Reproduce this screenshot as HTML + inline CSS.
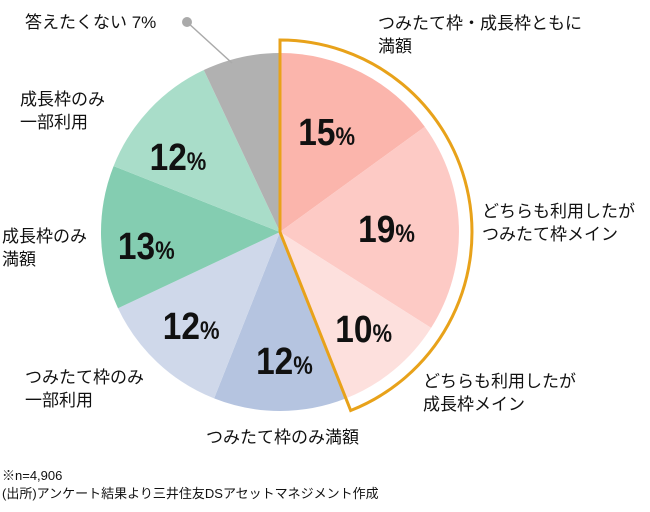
<!DOCTYPE html>
<html><head><meta charset="utf-8"><style>
body{margin:0;background:#fff;width:650px;height:507px;overflow:hidden}
text{font-family:"Liberation Sans","Noto Sans CJK JP",sans-serif}
.l{font-size:17px;fill:#111}
.p{font-size:38px;font-weight:bold;fill:#111}
.ps{font-size:25px}
</style></head><body>
<svg width="650" height="507" viewBox="0 0 650 507">
<path d="M280,232 L280,40 A192 192 0 0 1 350.7,410.5 Z" fill="#fff"/>
<path d="M280,232 L280,53 A179 179 0 0 1 424.8,126.8 Z" fill="#fbb5ac"/>
<path d="M280,232 L424.8,126.8 A179 179 0 0 1 431.1,327.9 Z" fill="#fdcac5"/>
<path d="M280,232 L431.1,327.9 A179 179 0 0 1 345.9,398.4 Z" fill="#fde0dd"/>
<path d="M280,232 L345.9,398.4 A179 179 0 0 1 214.1,398.4 Z" fill="#b5c4e0"/>
<path d="M280,232 L214.1,398.4 A179 179 0 0 1 118,308.2 Z" fill="#cfd8ea"/>
<path d="M280,232 L118,308.2 A179 179 0 0 1 113.6,166.1 Z" fill="#84cdb1"/>
<path d="M280,232 L113.6,166.1 A179 179 0 0 1 203.8,70 Z" fill="#a9ddc9"/>
<path d="M280,232 L203.8,70 A179 179 0 0 1 280,53 Z" fill="#b1b1b1"/>
<path d="M280,232 L280,40 A192 192 0 0 1 350.7,410.5 Z" fill="none" stroke="#e8a21a" stroke-width="3" stroke-linejoin="miter"/>
<line x1="187" y1="22" x2="232" y2="63" stroke="#aaa" stroke-width="1.5"/>
<circle cx="187" cy="22" r="5" fill="#aaa"/>
<g transform="scale(0.88,1)">
<text class="p" x="339" y="145">15<tspan class="ps">%</tspan></text>
<text class="p" x="407" y="242">19<tspan class="ps">%</tspan></text>
<text class="p" x="381" y="342">10<tspan class="ps">%</tspan></text>
<text class="p" x="291" y="374">12<tspan class="ps">%</tspan></text>
<text class="p" x="185" y="339">12<tspan class="ps">%</tspan></text>
<text class="p" x="134" y="259">13<tspan class="ps">%</tspan></text>
<text class="p" x="170" y="170">12<tspan class="ps">%</tspan></text>
</g>
<text class="l" x="378" y="29">つみたて枠・成長枠ともに</text>
<text class="l" x="378" y="52">満額</text>
<text class="l" x="482" y="217">どちらも利用したが</text>
<text class="l" x="482" y="240">つみたて枠メイン</text>
<text class="l" x="423" y="387">どちらも利用したが</text>
<text class="l" x="423" y="410">成長枠メイン</text>
<text class="l" x="206" y="443">つみたて枠のみ満額</text>
<text class="l" x="25" y="383">つみたて枠のみ</text>
<text class="l" x="25" y="406">一部利用</text>
<text class="l" x="2" y="242">成長枠のみ</text>
<text class="l" x="2" y="265">満額</text>
<text class="l" x="20" y="105">成長枠のみ</text>
<text class="l" x="20" y="128">一部利用</text>
<text class="l" x="25" y="28">答えたくない 7%</text>
<text x="2" y="480" style="font-size:13px;fill:#111">※n=4,906</text>
<text x="2" y="498" style="font-size:13px;fill:#111">(出所)アンケート結果より三井住友DSアセットマネジメント作成</text>
</svg>
</body></html>
